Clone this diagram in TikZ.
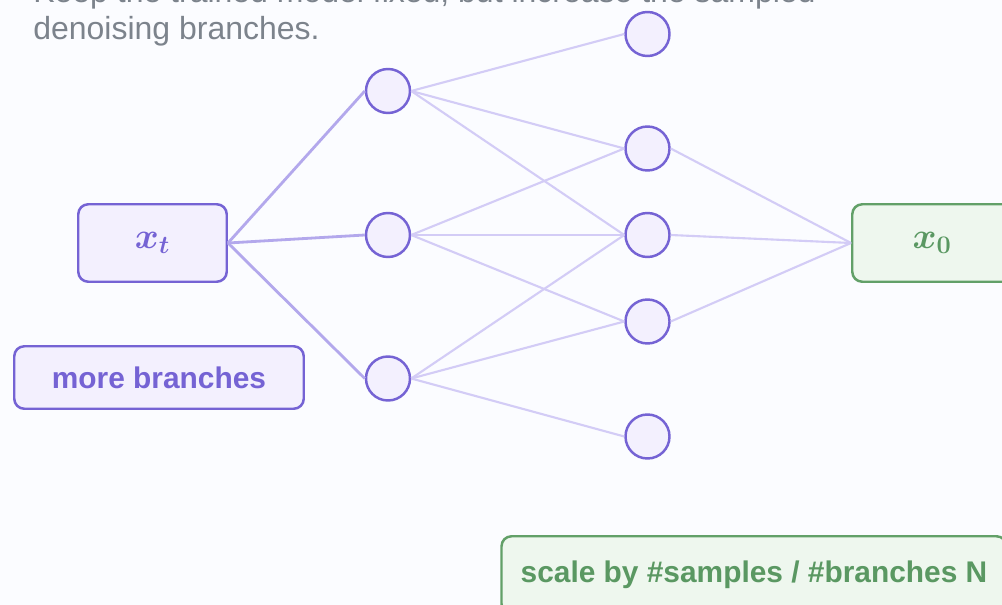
\documentclass[tikz,border=0pt]{standalone}
\usepackage{amsmath}
\usepackage{fontspec}
\setmainfont{Liberation Sans}
\usepackage{bm}
\usepackage{tikz}
\usetikzlibrary{positioning}
\usepackage{xcolor}
\definecolor{paper}{HTML}{FBFCFF}
\definecolor{violetline}{HTML}{7563D4}
\definecolor{violetfill}{HTML}{F3F0FE}
\definecolor{stemline}{HTML}{B3A8EC}
\definecolor{fanline}{HTML}{D3CCF6}
\definecolor{greenline}{HTML}{62A068}
\definecolor{greenfill}{HTML}{EEF7EE}
\definecolor{greentext}{HTML}{5A9862}
\definecolor{notegray}{HTML}{7C838C}

\begin{document}
\begin{tikzpicture}[scale=1.0,
  statebox/.style={draw=violetline, fill=violetfill, line width=1.4pt, rounded corners=0.2cm,
    inner sep=0pt, minimum width=2.97cm, minimum height=1.55cm, text=violetline,
    font=\fontsize{19.5}{22}\selectfont\boldmath},
  outbox/.style={statebox, draw=greenline, fill=greenfill, text=greentext},
  branch/.style={circle, draw=violetline, fill=violetfill, line width=1.4pt,
    inner sep=0pt, minimum size=0.88cm},
  tag/.style={draw=violetline, fill=violetfill, line width=1.4pt, rounded corners=0.2cm,
    inner sep=0pt, text=violetline, font=\fontsize{17}{20}\selectfont\bfseries},
  stem/.style={stemline, line width=1.6pt},
  fan/.style={fanline, line width=1.2pt}]
  \clip (0,0) rectangle (20.04,-12.10);
  \fill[paper] (0,0) rectangle (20.04,-12.10);

  % caption, partly cut off at the top
  \node[anchor=base west, align=left, inner sep=0pt, text=notegray,
        font=\fontsize{18.2}{21.1}\selectfont] (intro) at (0.66,-0.80)
    {Keep the trained model fixed, but increase the sampled\\denoising branches.};

  % start and end states
  \node[statebox] (xt) at (3.05,-4.86) {$\bm{x}_{\bm{t}}$};
  \node[outbox, minimum width=3.2cm] (x0) at (18.645,-4.86) {$\bm{x}_{\bm{0}}$};

  % two layers of sampled branches
  \foreach \n/\y in {a/-1.82, b/-4.70, c/-7.57}
    \node[branch] (p\n) at (7.76,\y) {};
  \foreach \n/\y in {a/-0.68, b/-2.97, c/-4.70, d/-6.43, e/-8.73}
    \node[branch] (q\n) at (12.95,\y) {};

  \foreach \p in {a,b,c}
    \draw[stem] (xt.east) -- (p\p.west);
  \foreach \p/\q in {a/a, a/b, a/c, b/b, b/c, b/d, c/c, c/d, c/e}
    \draw[fan] (p\p.east) -- (q\q.west);
  \foreach \q in {b,c,d}
    \draw[fan] (q\q.east) -- (x0.west);

  % tags
  \node[tag, minimum width=5.79cm, minimum height=1.25cm] (more) at (3.18,-7.55) {more branches};
  \node[tag, draw=greenline, fill=greenfill, text=greentext, minimum width=10.1cm,
        minimum height=1.55cm] (scale) at (15.08,-11.50) {scale by \#samples / \#branches N};
\end{tikzpicture}
\end{document}
